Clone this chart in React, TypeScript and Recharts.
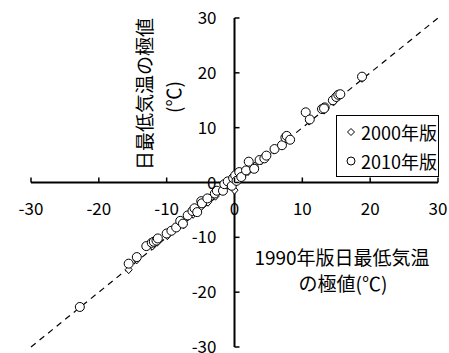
import {
  ScatterChart,
  Scatter,
  XAxis,
  YAxis,
  ReferenceLine,
  Legend,
} from 'recharts'

// 1990年版 (x) vs 2000年版 / 2010年版 (y)
const ed2000 = [
  { x: -15.6, y: -15.9 },
  { x: -14.4, y: -14.1 },
  { x: -12.1, y: -11.6 },
  { x: -11.4, y: -10.9 },
  { x: -9.9, y: -9.7 },
  { x: -8.0, y: -7.6 },
  { x: -7.5, y: -7.7 },
  { x: -6.1, y: -5.8 },
  { x: -4.9, y: -4.4 },
  { x: -3.9, y: -3.6 },
  { x: -2.8, y: -2.5 },
  { x: -1.5, y: -1.0 },
  { x: -0.9, y: -0.5 },
  { x: 0.0, y: -1.4 },
  { x: 0.3, y: 0.2 },
  { x: 0.8, y: 0.7 },
  { x: 1.2, y: 1.3 },
  { x: 2.0, y: 2.0 },
  { x: 3.0, y: 3.0 },
  { x: 4.0, y: 4.0 },
  { x: 5.8, y: 5.9 },
  { x: 7.6, y: 7.9 },
  { x: 11.0, y: 11.2 },
  { x: 13.2, y: 13.2 },
  { x: 14.6, y: 14.7 },
  { x: 15.4, y: 15.7 },
  { x: 18.8, y: 19.0 },
]

const ed2010 = [
  { x: -22.8, y: -22.7 },
  { x: -15.6, y: -14.8 },
  { x: -14.4, y: -13.6 },
  { x: -13.0, y: -11.6 },
  { x: -12.2, y: -11.0 },
  { x: -11.9, y: -10.8 },
  { x: -11.5, y: -10.6 },
  { x: -11.3, y: -10.2 },
  { x: -10.0, y: -9.3 },
  { x: -9.3, y: -8.8 },
  { x: -8.6, y: -8.2 },
  { x: -8.0, y: -7.0 },
  { x: -7.6, y: -7.5 },
  { x: -6.9, y: -6.0 },
  { x: -6.2, y: -5.2 },
  { x: -5.9, y: -4.7 },
  { x: -5.5, y: -5.4 },
  { x: -4.9, y: -3.4 },
  { x: -4.8, y: -3.8 },
  { x: -4.0, y: -2.9 },
  { x: -2.9, y: -2.0 },
  { x: -2.6, y: -1.5 },
  { x: -1.7, y: -1.5 },
  { x: -1.5, y: -0.3 },
  { x: -1.0, y: 0.2 },
  { x: -0.4, y: -0.6 },
  { x: -0.2, y: 0.8 },
  { x: 0.1, y: 1.3 },
  { x: 0.3, y: 0.3 },
  { x: 0.7, y: 1.9 },
  { x: 1.0, y: 1.0 },
  { x: 1.7, y: 2.2 },
  { x: 2.1, y: 3.8 },
  { x: 2.9, y: 2.5 },
  { x: 3.7, y: 4.1 },
  { x: 4.4, y: 4.4 },
  { x: 4.7, y: 4.9 },
  { x: 5.9, y: 6.1 },
  { x: 7.0, y: 6.8 },
  { x: 7.5, y: 8.2 },
  { x: 7.7, y: 8.5 },
  { x: 8.2, y: 7.8 },
  { x: 10.5, y: 12.8 },
  { x: 11.1, y: 11.5 },
  { x: 12.9, y: 13.4 },
  { x: 13.3, y: 13.7 },
  { x: 13.2, y: 13.5 },
  { x: 14.5, y: 15.0 },
  { x: 15.0, y: 15.6 },
  { x: 15.3, y: 16.0 },
  { x: 15.6, y: 16.1 },
  { x: 18.8, y: 19.3 },
]

const axisTicks = [-30, -20, -10, 0, 10, 20, 30]
const axisDomain = [-30, 30]

const W = 449
const H = 353
// the axes take 1px each, so the plot runs 31..438 by 18..347
const M = { top: 18, right: 11, bottom: 5, left: 30 }
const PLOT_L = M.left + 1
const PLOT_B = H - M.bottom - 1
const ZERO_X = PLOT_L + (W - M.right - PLOT_L) / 2
const ZERO_Y = M.top + (PLOT_B - M.top) / 2
const FONT = '"Noto Sans CJK JP", "Noto Sans", sans-serif'

function XTick(props: any) {
  const { x, payload } = props
  return (
    <g>
      <line x1={x} x2={x} y1={ZERO_Y} y2={ZERO_Y - 5} stroke="#000" strokeWidth={1.5} />
      <text x={x} y={ZERO_Y + 32} textAnchor="middle" fontSize={17} fill="#000" fontFamily={FONT}>
        {payload.value}
      </text>
    </g>
  )
}

function YTick(props: any) {
  const { y, payload } = props
  return (
    <g>
      <line x1={ZERO_X} x2={ZERO_X + 5} y1={y} y2={y} stroke="#000" strokeWidth={1.5} />
      <text x={ZERO_X - 18} y={y + 6} textAnchor="end" fontSize={17} fill="#000" fontFamily={FONT}>
        {payload.value}
      </text>
    </g>
  )
}

function Circle(props: any) {
  const { cx, cy } = props
  return <circle cx={cx} cy={cy} r={4.5} fill="#fff" stroke="#000" strokeWidth={1} />
}

function Diamond(props: any) {
  const { cx, cy } = props
  return (
    <path
      d={`M${cx},${cy - 4}L${cx + 3.5},${cy}L${cx},${cy + 4}L${cx - 3.5},${cy}Z`}
      fill="#fff"
      stroke="#000"
      strokeWidth={1}
    />
  )
}

function LegendBox(props: any) {
  const items = props.payload || []
  return (
    <div
      style={{
        width: 103,
        height: 62,
        boxSizing: 'border-box',
        border: '1.5px solid #000',
        background: '#fff',
        fontFamily: FONT,
        fontSize: 18,
        color: '#000',
        paddingTop: 1,
      }}
    >
      {items.map((it: any) => (
        <div key={it.value} style={{ display: 'flex', alignItems: 'center', height: 29, whiteSpace: 'nowrap' }}>
          <svg width={24} height={12} style={{ flex: 'none' }}>
            {it.type === 'diamond' ? (
              <path d="M14,2.5L17.5,6L14,9.5L10.5,6Z" fill="#fff" stroke="#000" strokeWidth={1} />
            ) : (
              <circle cx={14} cy={6} r={4} fill="#fff" stroke="#000" strokeWidth={1} />
            )}
          </svg>
          <span>{it.value}</span>
        </div>
      ))}
    </div>
  )
}

export default function App() {
  return (
    <div style={{ position: 'relative', width: W, height: H, fontFamily: FONT }}>
      <style>{'body{margin:0}'}</style>
      <ScatterChart width={W} height={H} margin={M}>
        <XAxis
          type="number"
          dataKey="x"
          domain={axisDomain}
          ticks={axisTicks}
          height={1}
          axisLine={false}
          tickLine={false}
          tick={<XTick />}
          interval={0}
        />
        <YAxis
          type="number"
          dataKey="y"
          domain={axisDomain}
          ticks={axisTicks}
          width={1}
          axisLine={false}
          tickLine={false}
          tick={<YTick />}
          interval={0}
        />
        <ReferenceLine
          segment={[{ x: -30, y: -30 }, { x: 30, y: 30 }]}
          stroke="#000"
          strokeWidth={1.2}
          strokeDasharray="6 5"
        />
        <ReferenceLine y={0} stroke="#000" strokeWidth={2} />
        <ReferenceLine x={0} stroke="#000" strokeWidth={2} />
        <Scatter
          name="2000年版"
          data={ed2000}
          legendType="diamond"
          shape={<Diamond />}
          isAnimationActive={false}
        />
        <Scatter
          name="2010年版"
          data={ed2010}
          legendType="circle"
          shape={<Circle />}
          isAnimationActive={false}
        />
        <Legend
          layout="horizontal"
          align="center"
          verticalAlign="middle"
          content={<LegendBox />}
          wrapperStyle={{ position: 'absolute', left: 336, top: 115, width: 103, height: 62 }}
        />
      </ScatterChart>
      <svg
        width={W}
        height={H}
        style={{ position: 'absolute', left: 0, top: 0, pointerEvents: 'none' }}
        fontFamily={FONT}
      >
        <text
          x={143}
          y={94}
          transform="rotate(-90 143 94)"
          textAnchor="middle"
          dominantBaseline="central"
          fontSize={19}
          fill="#000"
        >
          日最低気温の極値
        </text>
        <text
          x={172}
          y={97}
          transform="rotate(-90 172 97)"
          textAnchor="middle"
          dominantBaseline="central"
          fontSize={19}
          fill="#000"
        >
          (℃)
        </text>
        <text x={342} y={256} textAnchor="middle" dominantBaseline="central" fontSize={19} fill="#000">
          1990年版日最低気温
        </text>
        <text x={343} y={282} textAnchor="middle" dominantBaseline="central" fontSize={19} fill="#000">
          の極値(℃)
        </text>
      </svg>
    </div>
  )
}
